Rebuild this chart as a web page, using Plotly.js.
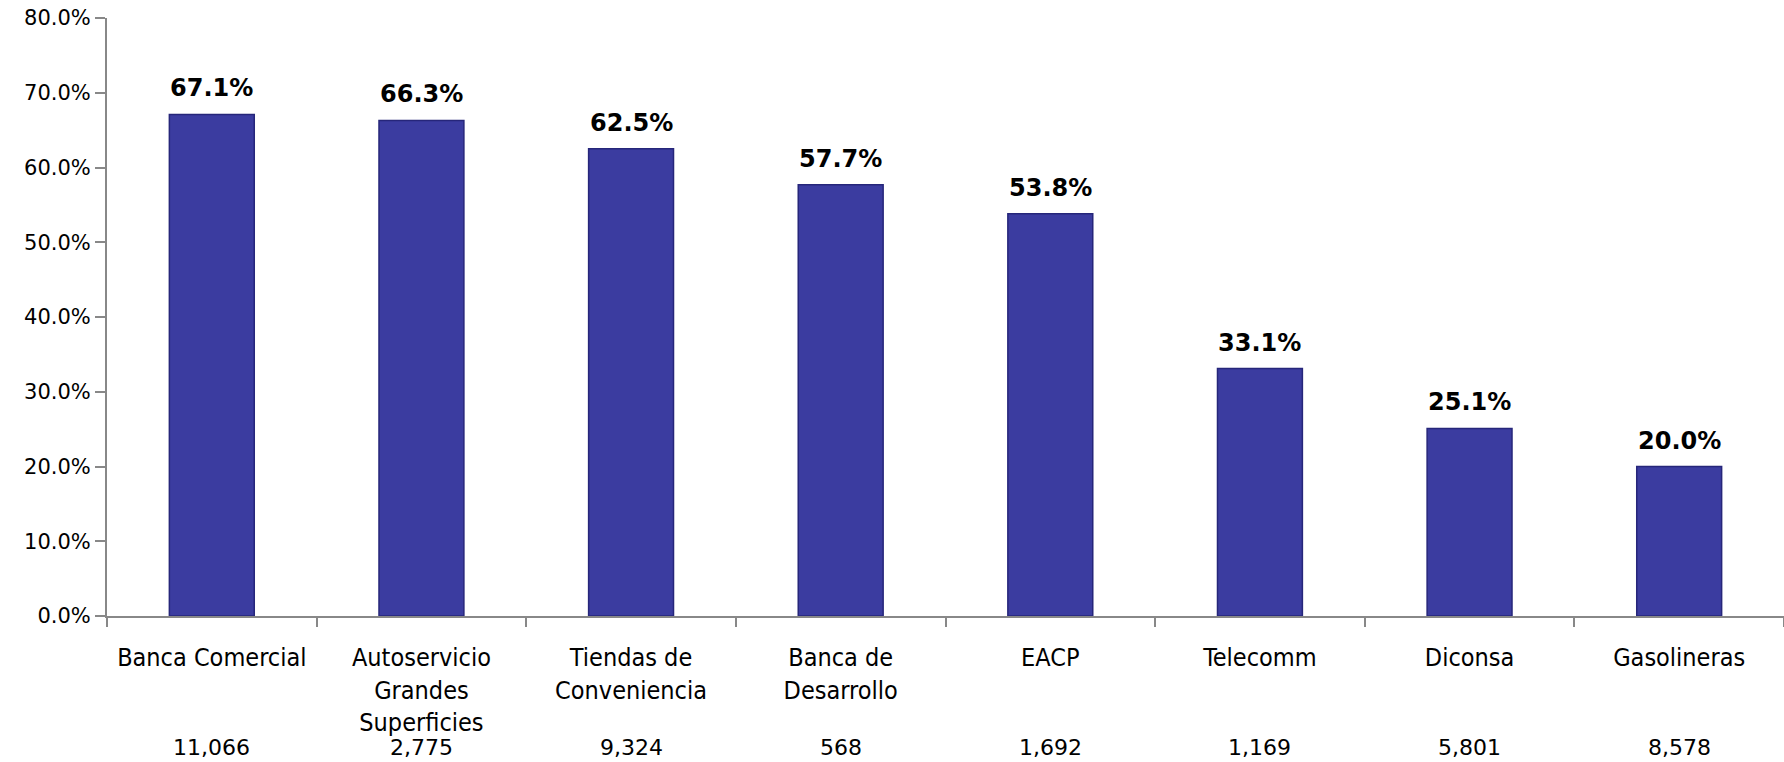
<!DOCTYPE html>
<html>
<head>
<meta charset="utf-8">
<script src="https://cdn.plot.ly/plotly-3.0.1.min.js"></script>
<style>
html,body{margin:0;padding:0;background:#fff;}
#chart{width:1784px;height:762px;}
</style>
</head>
<body>
<div id="chart"></div>
<script>
const categories = ["Banca Comercial", "Autoservicio<br>Grandes<br>Superficies", "Tiendas de<br>Conveniencia", "Banca de<br>Desarrollo", "EACP", "Telecomm", "Diconsa", "Gasolineras"];
const values = [0.671, 0.663, 0.625, 0.577, 0.538, 0.331, 0.251, 0.200];
const counts = ["11,066", "2,775", "9,324", "568", "1,692", "1,169", "5,801", "8,578"];
const yTicks = [0, 0.1, 0.2, 0.3, 0.4, 0.5, 0.6, 0.7, 0.8];

const xKeys = categories.map((c, i) => "c" + i);

const labelFont = "DejaVu Sans Condensed, Liberation Sans Narrow, DejaVu Sans, sans-serif";

const trace = {
  type: "bar",
  x: xKeys,
  y: values,
  width: 0.405,
  marker: {color: "#3b3ca0", line: {color: "#26267a", width: 1.5}},
  hoverinfo: "none"
};

const valueNotes = xKeys.map((k, i) => ({
  x: k, y: values[i], xref: "x", yref: "y",
  text: "<b>" + (values[i] * 100).toFixed(1) + "%</b>",
  showarrow: false, yanchor: "bottom", yshift: 10,
  font: {family: "DejaVu Sans, sans-serif", size: 24, color: "#000"}
}));

const countNotes = xKeys.map((k, i) => ({
  x: k, y: 0, xref: "x", yref: "paper",
  text: counts[i],
  showarrow: false, yanchor: "middle", yshift: -131,
  font: {family: "DejaVu Sans, sans-serif", size: 22, color: "#000"}
}));

const layout = {
  width: 1784, height: 762,
  margin: {l: 107, r: 0, t: 18, b: 146},
  paper_bgcolor: "#fff", plot_bgcolor: "#fff",
  showlegend: false,
  bargap: 0.6,
  xaxis: {
    type: "category",
    tickmode: "array", tickvals: xKeys, ticktext: categories,
    tickson: "boundaries", ticks: "outside", ticklen: 9, tickcolor: "#888", tickwidth: 2,
    showline: true, linecolor: "#888", linewidth: 2,
    showgrid: false, zeroline: false,
    tickangle: 0,
    ticklabelstandoff: 18,
    tickfont: {family: labelFont, size: 25, color: "#000"},
    range: [-0.5, 7.5]
  },
  yaxis: {
    range: [0, 0.8],
    tickmode: "array", tickvals: yTicks,
    tickformat: ".1%",
    ticks: "outside", ticklen: 10, tickcolor: "#888", tickwidth: 2,
    showline: true, linecolor: "#888", linewidth: 2,
    showgrid: false, zeroline: false,
    tickfont: {family: "DejaVu Sans, sans-serif", size: 21, color: "#000"}
  },
  annotations: valueNotes.concat(countNotes)
};

Plotly.newPlot("chart", [trace], layout, {displayModeBar: false, staticPlot: true});
</script>
</body>
</html>
